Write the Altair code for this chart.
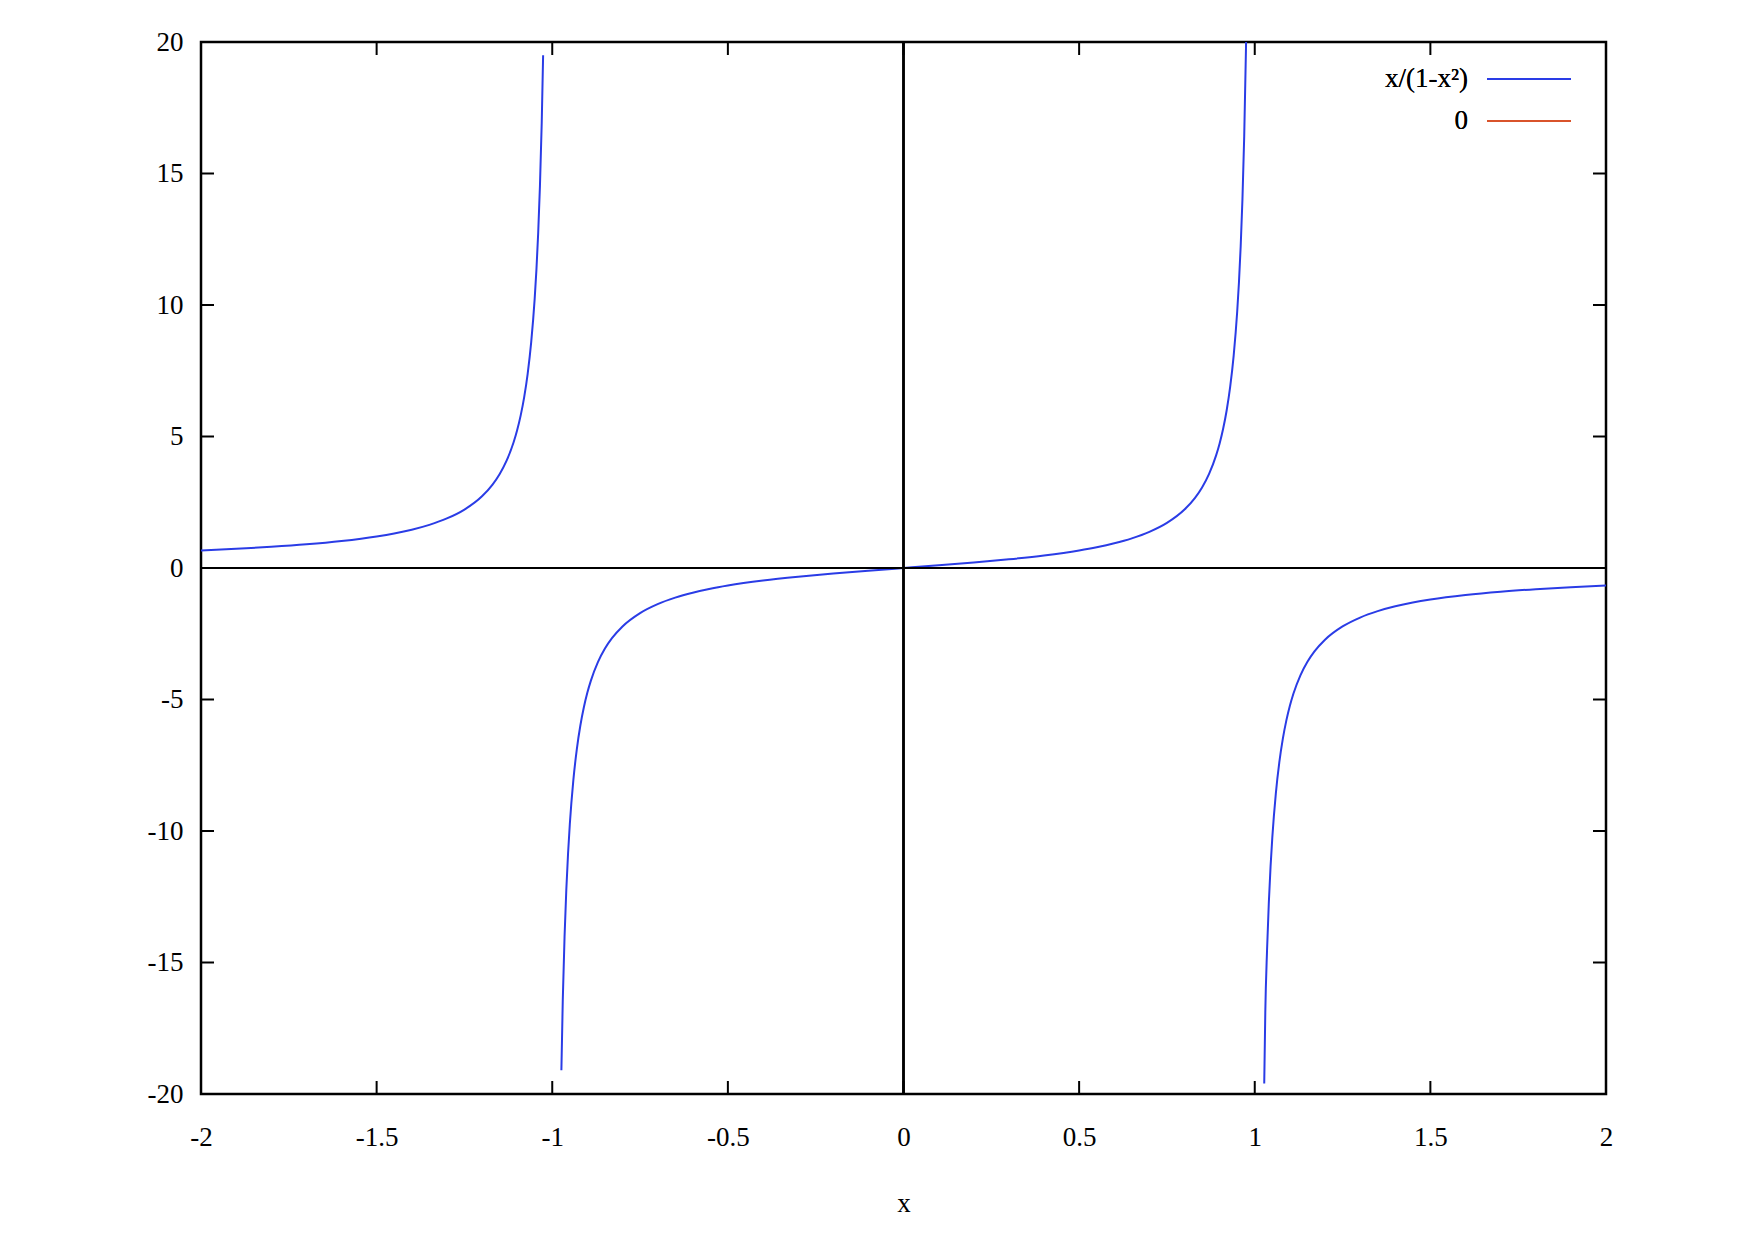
import altair as alt
import pandas as pd

# Branch 1: x < -1
xa = [-2.0, -1.9, -1.8, -1.7, -1.6, -1.5, -1.45, -1.4, -1.35, -1.3, -1.25, -1.2, -1.17, -1.15,
      -1.13, -1.11, -1.1, -1.09, -1.08, -1.07, -1.06, -1.05, -1.045, -1.04, -1.035, -1.03, -1.026]
ya = [0.667, 0.728, 0.804, 0.899, 1.026, 1.2, 1.315, 1.458, 1.641, 1.884, 2.222, 2.727, 3.172, 3.566,
      4.081, 4.782, 5.238, 5.795, 6.49, 7.384, 8.576, 10.244, 11.356, 12.745, 14.531, 16.913, 19.5]

# Branch 2: -1 < x < 1
xb = [-0.974, -0.97, -0.965, -0.96, -0.955, -0.95, -0.94, -0.93, -0.92, -0.91, -0.9, -0.89, -0.87,
      -0.85, -0.83, -0.8, -0.75, -0.7, -0.65, -0.6, -0.55, -0.5, -0.4, -0.3, -0.2, -0.1, 0.0, 0.1,
      0.2, 0.3, 0.4, 0.5, 0.55, 0.6, 0.65, 0.7, 0.75, 0.8, 0.83, 0.85, 0.87, 0.89, 0.9, 0.91, 0.92,
      0.93, 0.94, 0.95, 0.955, 0.96, 0.965, 0.97, 0.975, 0.9753]
yb = [-19.1, -16.413, -14.031, -12.245, -10.855, -9.744, -8.076, -6.884, -5.99, -5.294, -4.737,
      -4.281, -3.579, -3.063, -2.668, -2.222, -1.714, -1.373, -1.126, -0.938, -0.789, -0.667, -0.476,
      -0.33, -0.208, -0.101, 0.0, 0.101, 0.208, 0.33, 0.476, 0.667, 0.789, 0.938, 1.126, 1.373, 1.714,
      2.222, 2.668, 3.063, 3.579, 4.281, 4.737, 5.294, 5.99, 6.884, 8.076, 9.744, 10.855, 12.245,
      14.031, 16.413, 19.747, 20.0]

# Branch 3: x > 1
xc = [1.027, 1.03, 1.035, 1.04, 1.045, 1.05, 1.06, 1.07, 1.08, 1.09, 1.1, 1.11, 1.13, 1.15, 1.17,
      1.2, 1.25, 1.3, 1.35, 1.4, 1.45, 1.5, 1.6, 1.7, 1.8, 1.9, 2.0]
yc = [-19.6, -16.913, -14.531, -12.745, -11.356, -10.244, -8.576, -7.384, -6.49, -5.795, -5.238,
      -4.782, -4.081, -3.566, -3.172, -2.727, -2.222, -1.884, -1.641, -1.458, -1.315, -1.2, -1.026,
      -0.899, -0.804, -0.728, -0.667]

# Zero function
x0 = [-2.0, 2.0]
y0 = [0.0, 0.0]

x_ticks = [-2, -1.5, -1, -0.5, 0, 0.5, 1, 1.5, 2]
y_ticks = [-20, -15, -10, -5, 0, 5, 10, 15, 20]
legend_labels = ["x/(1-x²)", "0"]
colors = ["#2a3ce6", "#d9532b"]

W, H = 1405, 1052
FONT = "Liberation Serif"
FS = 27
TICK = 13

curve = pd.concat([
    pd.DataFrame({"x": xa, "y": ya, "branch": "a"}),
    pd.DataFrame({"x": xb, "y": yb, "branch": "b"}),
    pd.DataFrame({"x": xc, "y": yc, "branch": "c"}),
])
zero_df = pd.DataFrame({"x": x0, "y": y0})
xt = pd.DataFrame({"v": x_ticks})
yt = pd.DataFrame({"v": y_ticks})

xscale = alt.Scale(domain=[-2, 2], nice=False, zero=False)
yscale = alt.Scale(domain=[-20, 20], nice=False, zero=False)

xaxis = alt.Axis(values=x_ticks, title="x", grid=False, ticks=False, domain=False,
                 labelFont=FONT, labelFontSize=FS, labelPadding=30, labelColor="black",
                 labelExpr="'' + datum.value", labelFlush=False,
                 titleFont=FONT, titleFontSize=FS, titleFontWeight="normal", titleColor="black",
                 titleBaseline="alphabetic", titleY=117)
yaxis = alt.Axis(values=y_ticks, title=None, grid=False, ticks=False, domain=False,
                 labelFont=FONT, labelFontSize=FS, labelPadding=18, labelColor="black",
                 labelExpr="'' + datum.value", labelFlush=False)

zero_line = alt.Chart(zero_df).mark_line(color=colors[1], strokeWidth=2).encode(
    x=alt.X("x:Q", scale=xscale, axis=xaxis),
    y=alt.Y("y:Q", scale=yscale, axis=yaxis),
)

curves = alt.Chart(curve).mark_line(color=colors[0], strokeWidth=2, interpolate="monotone",
                                    clip=True).encode(
    x=alt.X("x:Q", scale=xscale),
    y=alt.Y("y:Q", scale=yscale),
    detail="branch:N",
    order=alt.Order("x:Q"),
)

hz = alt.Chart(zero_df).mark_rule(color="black", strokeWidth=2).encode(
    y=alt.datum(0, scale=yscale), x=alt.value(0), x2=alt.value(W))
vz = alt.Chart(zero_df).mark_rule(color="black", strokeWidth=2.5).encode(
    x=alt.datum(0, scale=xscale), y=alt.value(0), y2=alt.value(H))

tick_b = alt.Chart(xt).mark_rule(color="black", strokeWidth=2).encode(
    x=alt.X("v:Q", scale=xscale), y=alt.value(H), y2=alt.value(H - TICK))
tick_t = alt.Chart(xt).mark_rule(color="black", strokeWidth=2).encode(
    x=alt.X("v:Q", scale=xscale), y=alt.value(0), y2=alt.value(TICK))
tick_l = alt.Chart(yt).mark_rule(color="black", strokeWidth=2).encode(
    y=alt.Y("v:Q", scale=yscale), x=alt.value(0), x2=alt.value(TICK))
tick_r = alt.Chart(yt).mark_rule(color="black", strokeWidth=2).encode(
    y=alt.Y("v:Q", scale=yscale), x=alt.value(W), x2=alt.value(W - TICK))

leg_layers = []
for i, (lab, col) in enumerate(zip(legend_labels, colors)):
    ly = 37 + 42 * i
    leg_layers.append(
        alt.Chart(zero_df).mark_text(font=FONT, fontSize=FS, align="right", baseline="middle",
                                     color="black", text=lab).encode(
            x=alt.value(1267), y=alt.value(ly)))
    leg_layers.append(
        alt.Chart(zero_df).mark_rule(color=col, strokeWidth=2).encode(
            x=alt.value(1286), x2=alt.value(1370), y=alt.value(ly)))

chart = alt.layer(zero_line, curves, hz, vz, tick_b, tick_t, tick_l, tick_r, *leg_layers).properties(
    width=W, height=H,
    background="white",
    autosize=alt.AutoSizeParams(type="none"),
    padding={"left": 193, "top": 34, "right": 148, "bottom": 135},
).configure_view(stroke="black", strokeWidth=2.5)

chart.save("out.html", embed_options={"renderer": "svg", "actions": False})
